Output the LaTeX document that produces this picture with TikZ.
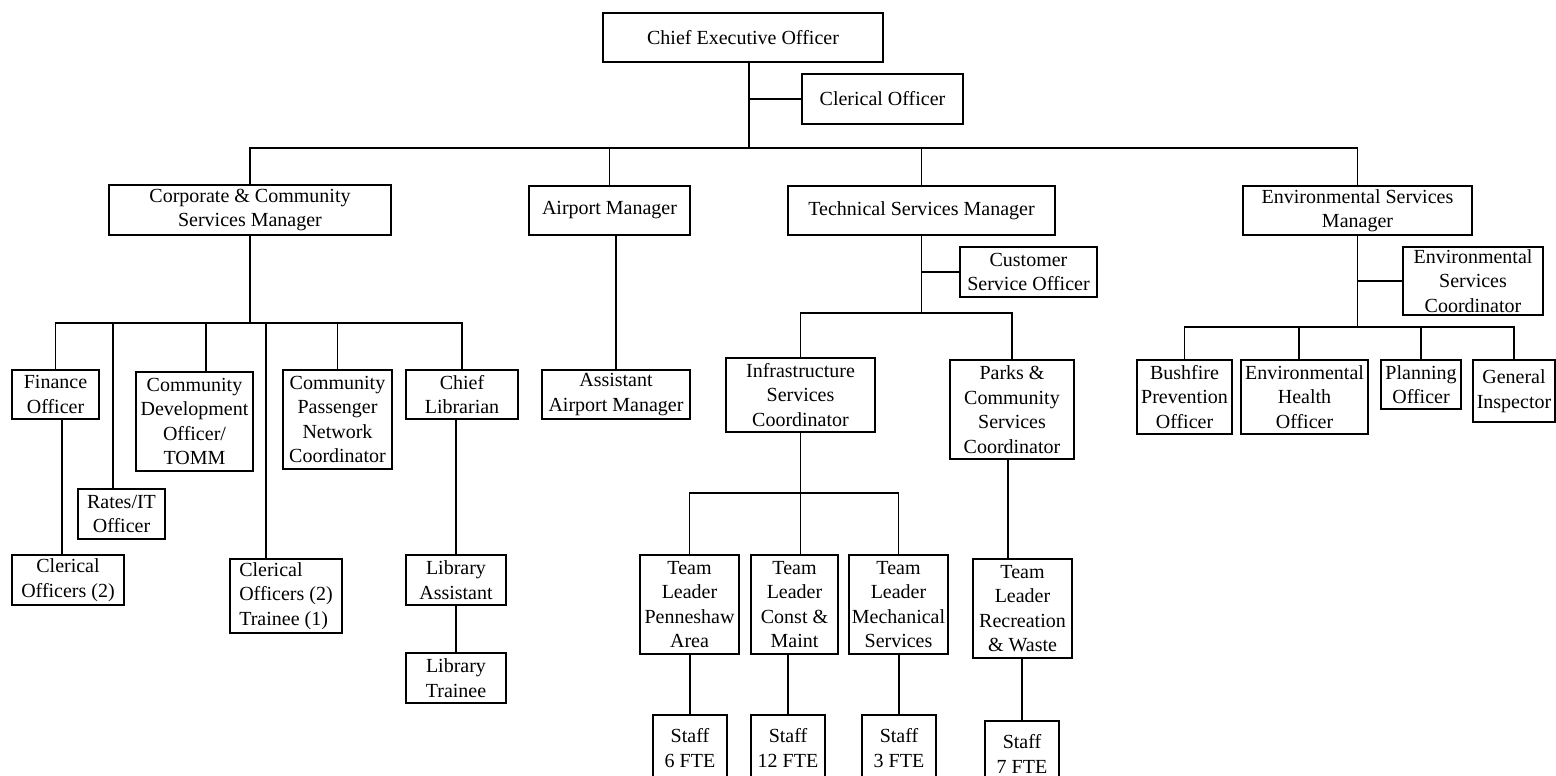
\documentclass[tikz,border=0pt]{standalone}
\usepackage{fontspec}
\setmainfont{Liberation Serif}
\newcommand\orgbox[7][]{%
  \pgfmathsetmacro\obcx{(#3+#5)/2}%
  \pgfmathsetmacro\obcy{(#4+#6)/2}%
  \node[box,#1,minimum width={(#5-#3)*1pt},minimum height={(#6-#4)*1pt}] (#2) at (\obcx,\obcy) {#7};}
\begin{document}
\begin{tikzpicture}[x=1pt,y=-1pt,
  box/.style={draw,line width=1.8pt,fill=white,inner sep=0pt,align=center,
              font=\fontsize{20}{24.5}\selectfont},
  conn/.style={line width=1.8pt}]
\clip (0,0) rectangle (1556,776);
\fill[white] (0,0) rectangle (1556,776);
% top level
\orgbox{ceo}{603}{13}{883}{62}{Chief Executive Officer}
\orgbox{clo}{802}{74}{963}{124}{Clerical Officer}
\orgbox{corp}{109}{185}{391}{235}{Corporate \& Community\\Services Manager}
\orgbox{apm}{529}{186}{690}{235}{Airport Manager}
\orgbox{tsm}{788}{186}{1055}{235}{Technical Services Manager}
\orgbox{esm}{1243}{186}{1472}{235}{Environmental Services\\Manager}
% corporate branch
\orgbox{fin}{12}{370}{99}{419}{Finance\\Officer}
\orgbox{rates}{78}{489}{165}{539}{Rates/IT\\Officer}
\orgbox{cdo}{136}{372}{253}{471}{Community\\Development\\Officer/\\TOMM}
\orgbox{cpn}{283}{370}{392}{469}{Community\\Passenger\\Network\\Coordinator}
\orgbox{clib}{406}{370}{518}{419}{Chief\\Librarian}
\orgbox{clo2}{12}{555}{124}{605}{Clerical\\Officers (2)}
\orgbox[align=left]{clt}{230}{559}{342}{633}{Clerical\\Officers (2)\\Trainee (1)}
\orgbox{lasst}{406}{555}{506}{605}{Library\\Assistant}
\orgbox{ltr}{406}{653}{506}{703}{Library\\Trainee}
% airport branch
\orgbox{aapm}{542}{370}{690}{419}{Assistant\\Airport Manager}
% technical branch
\orgbox{cso}{960}{247}{1097}{297}{Customer\\Service Officer}
\orgbox{isc}{726}{358}{875}{432}{Infrastructure\\Services\\Coordinator}
\orgbox{pcs}{950}{360}{1074}{459}{Parks \&\\Community\\Services\\Coordinator}
\orgbox{tl1}{640}{555}{739}{654}{Team\\Leader\\Penneshaw\\Area}
\orgbox{tl2}{751}{555}{838}{654}{Team\\Leader\\Const \&\\Maint}
\orgbox{tl3}{849}{555}{948}{654}{Team\\Leader\\Mechanical\\Services}
\orgbox{tl4}{973}{559}{1072}{658}{Team\\Leader\\Recreation\\\& Waste}
\orgbox{s1}{653}{715}{727}{781}{Staff\\6 FTE}
\orgbox{s2}{751}{715}{825}{781}{Staff\\12 FTE}
\orgbox{s3}{862}{715}{936}{781}{Staff\\3 FTE}
\orgbox{s4}{985}{721}{1059}{787}{Staff\\7 FTE}
% environmental branch
\orgbox{esc}{1403}{247}{1543}{315}{Environmental\\Services\\Coordinator}
\orgbox{bush}{1137}{360}{1232}{434}{Bushfire\\Prevention\\Officer}
\orgbox{eho}{1241}{360}{1368}{434}{Environmental\\Health\\Officer}
\orgbox{plan}{1381}{360}{1461}{409}{Planning\\Officer}
\orgbox{gi}{1473}{360}{1555}{422}{General\\Inspector}
% ---- connectors ----
\coordinate (cj) at (749,148);
\draw[conn] (cj |- ceo.south) -- (cj);
\draw[conn] (cj |- clo.west) -- (clo.west);
\draw[conn] (corp.north) -- (corp.north |- cj) -- (esm.north |- cj) -- (esm.north);
\draw[conn] (apm.north |- cj) -- (apm.north);
\draw[conn] (tsm.north |- cj) -- (tsm.north);
\draw[conn] (aapm.north |- apm.south) -- (aapm.north);
% technical
\coordinate (tj) at (922,313);
\draw[conn] (tsm.south) -- (tsm.south |- tj);
\draw[conn] (tsm.south |- cso.west) -- (cso.west);
\draw[conn] (isc.north) -- (isc.north |- tj) -- (pcs.north |- tj) -- (pcs.north);
\coordinate (ij) at (800,493);
\draw[conn] (isc.south) -- (isc.south |- ij);
\draw[conn] (tl1.north) -- (tl1.north |- ij) -- (tl3.north |- ij) -- (tl3.north);
\draw[conn] (isc.south |- ij) -- (isc.south |- tl2.north);
\coordinate (pj) at (1008,459);
\draw[conn] (pj |- pcs.south) -- (pj |- tl4.north);
\draw[conn] (s1.north |- tl1.south) -- (s1.north);
\draw[conn] (s2.north |- tl2.south) -- (s2.north);
\draw[conn] (s3.north |- tl3.south) -- (s3.north);
\draw[conn] (s4.north |- tl4.south) -- (s4.north);
% environmental
\coordinate (ej) at (1357,327);
\draw[conn] (esm.south) -- (esm.south |- ej);
\draw[conn] (esm.south |- esc.west) -- (esc.west);
\draw[conn] (bush.north) -- (bush.north |- ej) -- (gi.north |- ej) -- (gi.north);
\coordinate (ej2) at (1299,327);
\draw[conn] (ej2) -- (ej2 |- eho.north);
\draw[conn] (plan.north |- ej) -- (plan.north);
% corporate
\coordinate (kj) at (248,323);
\draw[conn] (corp.south) -- (corp.south |- kj);
\draw[conn] (fin.north) -- (fin.north |- kj) -- (clib.north |- kj) -- (clib.north);
\coordinate (k2) at (113,323);
\draw[conn] (k2) -- (k2 |- rates.north);
\coordinate (k3) at (206,323);
\draw[conn] (k3) -- (k3 |- cdo.north);
\coordinate (k4) at (266,323);
\draw[conn] (k4) -- (k4 |- clt.north);
\draw[conn] (cpn.north |- kj) -- (cpn.north);
\coordinate (f1) at (62,419);
\draw[conn] (f1 |- fin.south) -- (f1 |- clo2.north);
\draw[conn] (lasst.north |- clib.south) -- (lasst.north);
\draw[conn] (lasst.south) -- (ltr.north);
\end{tikzpicture}
\end{document}
